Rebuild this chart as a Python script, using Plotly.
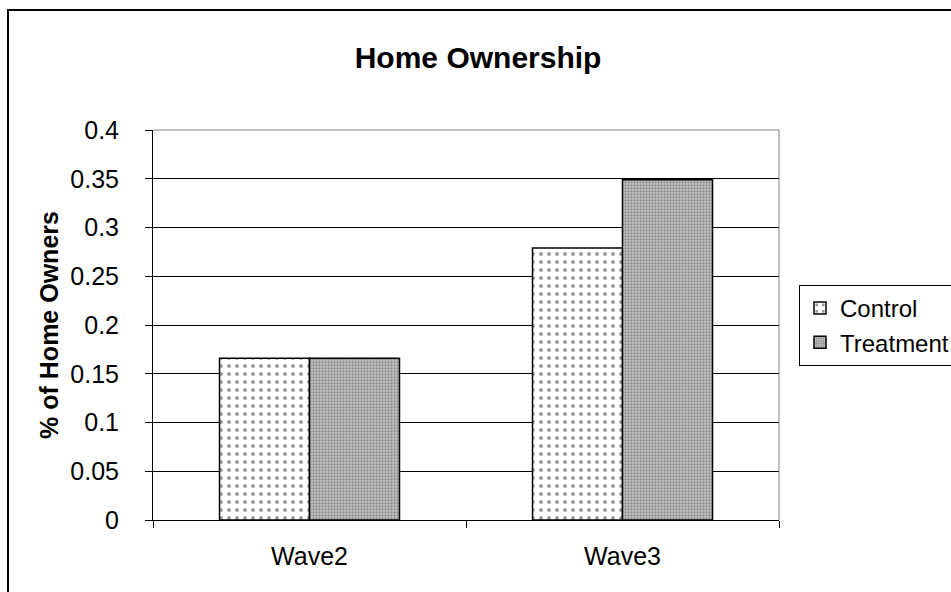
import plotly.graph_objects as go

categories = ["Wave2", "Wave3"]
control = [0.166, 0.279]
treatment = [0.166, 0.349]
y_ticks = [0, 0.05, 0.1, 0.15, 0.2, 0.25, 0.3, 0.35, 0.4]
y_tick_labels = ["0", "0.05", "0.1", "0.15", "0.2", "0.25", "0.3", "0.35", "0.4"]

FONT = "Liberation Sans, Arial, sans-serif"

fig = go.Figure()
fig.add_trace(go.Bar(
    name="Control", x=categories, y=control, legendgroup="c",
    marker=dict(color="white", line=dict(color="black", width=1.5),
                pattern=dict(shape=".", fgcolor="#333333", bgcolor="white",
                             size=8, solidity=0.18)),
))
fig.add_trace(go.Bar(
    name="Treatment", x=categories, y=treatment, legendgroup="t",
    marker=dict(color="#9a9a9a", line=dict(color="black", width=1.5),
                pattern=dict(shape=".", fgcolor="#555555", bgcolor="#c4c4c4",
                             size=3, solidity=0.45)),
))

L, R, T, B = 153, 172, 130, 72
W, H = 951, 592
pw = W - L - R
ph = H - T - B

def px_x(p):
    return (p - L) / pw

def px_y(p):
    return (H - B - p) / ph

fig.update_layout(
    width=W, height=H,
    margin=dict(l=L, r=R, t=T, b=B, pad=0, autoexpand=False),
    paper_bgcolor="white", plot_bgcolor="white",
    font=dict(family=FONT, size=25, color="black"),
    barmode="group", bargap=0.425, bargroupgap=0,
    title=dict(text="<b>Home Ownership</b>", x=0.5027, xanchor="center",
               y=1 - 57 / H, yanchor="middle", yref="container",
               font=dict(size=30, family=FONT, color="black")),
    legend=dict(x=px_x(799), y=px_y(285), xanchor="left", yanchor="top",
                bordercolor="black", borderwidth=1, bgcolor="white",
                font=dict(size=24, family=FONT), traceorder="grouped",
                tracegroupgap=0),
    xaxis=dict(showline=True, linecolor="black", linewidth=1,
               ticks="outside", ticklen=7, tickcolor="black",
               tickson="boundaries", showgrid=False,
               ticklabelstandoff=14, mirror=False,
               tickfont=dict(size=25)),
    yaxis=dict(range=[0, 0.4], tickvals=y_ticks, ticktext=y_tick_labels,
               showline=True, linecolor="black", linewidth=1,
               ticks="outside", ticklen=7, tickcolor="black",
               showgrid=True, gridcolor="black", gridwidth=1,
               zeroline=False, ticklabelstandoff=21,
               tickfont=dict(size=25),
               title=dict(text="<b>% of Home Owners</b>", standoff=4,
                          font=dict(size=25, family=FONT))),
    shapes=[
        dict(type="line", xref="paper", yref="paper", x0=0, x1=1, y0=1, y1=1,
             line=dict(color="#808080", width=1)),
        dict(type="line", xref="paper", yref="paper", x0=1, x1=1, y0=0, y1=1,
             line=dict(color="#808080", width=1)),
        dict(type="rect", xref="paper", yref="paper",
             x0=px_x(8), x1=px_x(965), y0=px_y(605), y1=px_y(10),
             line=dict(color="black", width=2), fillcolor="rgba(0,0,0,0)",
             layer="above"),
    ],
)

fig.write_html("out.html")
